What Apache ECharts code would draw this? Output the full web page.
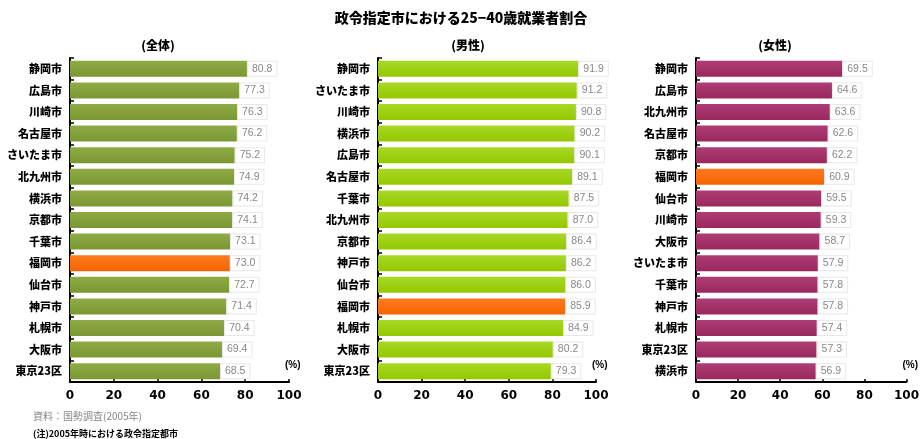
<!DOCTYPE html>
<html>
<head>
<meta charset="utf-8">
<script src="https://cdn.jsdelivr.net/npm/echarts@6/dist/echarts.min.js"></script>
<style>
html,body{margin:0;padding:0;background:#fff;}
#chart{width:922px;height:439px;}
</style>
</head>
<body>
<div id="chart"></div>
<script>
const titleText = '政令指定市における25−40歳就業者割合';
const panelTitles = ['(全体)', '(男性)', '(女性)'];
const highlightCity = '福岡市';

const totalCities = ['静岡市','広島市','川崎市','名古屋市','さいたま市','北九州市','横浜市','京都市','千葉市','福岡市','仙台市','神戸市','札幌市','大阪市','東京23区'];
const totalValues = [80.8, 77.3, 76.3, 76.2, 75.2, 74.9, 74.2, 74.1, 73.1, 73.0, 72.7, 71.4, 70.4, 69.4, 68.5];

const maleCities = ['静岡市','さいたま市','川崎市','横浜市','広島市','名古屋市','千葉市','北九州市','京都市','神戸市','仙台市','福岡市','札幌市','大阪市','東京23区'];
const maleValues = [91.9, 91.2, 90.8, 90.2, 90.1, 89.1, 87.5, 87.0, 86.4, 86.2, 86.0, 85.9, 84.9, 80.2, 79.3];

const femaleCities = ['静岡市','広島市','北九州市','名古屋市','京都市','福岡市','仙台市','川崎市','大阪市','さいたま市','千葉市','神戸市','札幌市','東京23区','横浜市'];
const femaleValues = [69.5, 64.6, 63.6, 62.6, 62.2, 60.9, 59.5, 59.3, 58.7, 57.9, 57.8, 57.8, 57.4, 57.3, 56.9];

const xTicks = [0, 20, 40, 60, 80, 100];
const sourceNote = '資料：国勢調査(2005年)';
const footNote = '(注)2005年時における政令指定都市';

const panels = [
  {cities: totalCities, values: totalValues, color: ['#8eab45', '#7a9733'], left: 70, width: 219, titleX: 153},
  {cities: maleCities, values: maleValues, color: ['#a8d826', '#95c700'], left: 378, width: 218, titleX: 463},
  {cities: femaleCities, values: femaleValues, color: ['#ad3d76', '#9a285d'], left: 696, width: 217, titleX: 770}
];
const orange = ['#ff7a20', '#f56400'];

function grad(c) {
  return new echarts.graphic.LinearGradient(0, 0, 0, 1, [
    {offset: 0, color: c[0]}, {offset: 1, color: c[1]}
  ]);
}

const grids = [], xAxes = [], yAxes = [], series = [], titles = [];
panels.forEach((p, i) => {
  grids.push({left: p.left, width: p.width, top: 58, height: 324});
  xAxes.push({
    type: 'value', gridIndex: i, min: xTicks[0], max: xTicks[xTicks.length - 1], interval: 20,
    splitLine: {show: false},
    axisLine: {show: true, lineStyle: {color: '#000', width: 2}},
    axisTick: {show: true, inside: true, length: 3, lineStyle: {color: '#000', width: 1.5}},
    axisLabel: {color: '#000', fontSize: 12, fontWeight: 'bold', fontFamily: 'DejaVu Sans', margin: 8},
    name: '(%)', nameLocation: 'end', nameGap: -4,
    nameTextStyle: {color: '#000', fontSize: 10, fontWeight: 'bold', fontFamily: 'Liberation Sans', align: 'left', verticalAlign: 'bottom', padding: [0, 0, 12, 0]}
  });
  yAxes.push({
    type: 'category', gridIndex: i, data: p.cities, inverse: true,
    axisLine: {show: true, lineStyle: {color: '#000', width: 2}},
    axisTick: {show: true, inside: true, length: 4, lineStyle: {color: '#000', width: 1.5}},
    axisLabel: {color: '#000', fontSize: 11, fontWeight: 900, fontFamily: 'Noto Sans CJK JP', margin: 8}
  });
  series.push({
    type: 'bar', xAxisIndex: i, yAxisIndex: i, barCategoryGap: '26%',
    data: p.values.map((v, k) => ({
      value: v,
      itemStyle: {color: grad(p.cities[k] === highlightCity ? orange : p.color)}
    })),
    label: {
      show: true, position: 'right', distance: 1,
      formatter: d => d.value.toFixed(1),
      color: '#888', fontSize: 10.5, fontFamily: 'Liberation Sans',
      backgroundColor: '#fff', borderColor: '#e8e8e8', borderWidth: 1, padding: [2, 4, 1, 4]
    },
    animation: false
  });
  titles.push({
    text: panelTitles[i], left: p.titleX, top: 34, textAlign: 'center',
    textStyle: {fontSize: 12, fontWeight: 900, color: '#000', fontFamily: 'Noto Sans CJK JP'}
  });
});

titles.unshift({
  text: titleText, left: 'center', top: 6,
  textStyle: {fontSize: 14, fontWeight: 900, color: '#000', fontFamily: 'Noto Sans CJK JP'}
});
titles.push({
  text: sourceNote, left: 28, top: 406,
  textStyle: {fontSize: 10, fontWeight: 'normal', color: '#888', fontFamily: 'Noto Sans CJK JP'}
});
titles.push({
  text: footNote, left: 28, top: 424,
  textStyle: {fontSize: 9, fontWeight: 'bold', color: '#000', fontFamily: 'Noto Sans CJK JP'}
});

const chart = echarts.init(document.getElementById('chart'), null, {renderer: 'canvas'});
chart.setOption({
  animation: false,
  backgroundColor: '#fff',
  title: titles,
  grid: grids,
  xAxis: xAxes,
  yAxis: yAxes,
  series: series
});
</script>
</body>
</html>
